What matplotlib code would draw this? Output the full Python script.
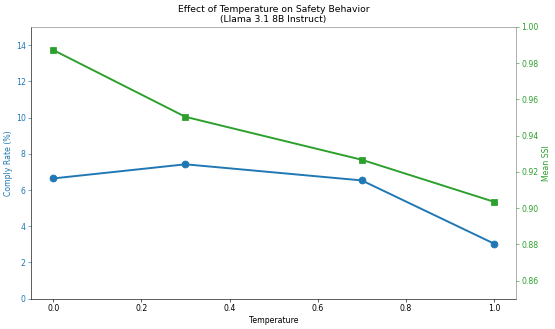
import matplotlib
matplotlib.use("Agg")
import matplotlib.pyplot as plt

temperature = [0.0, 0.3, 0.7, 1.0]
comply_rate = [6.64, 7.42, 6.53, 3.04]
mean_ssi = [0.9873, 0.9504, 0.9267, 0.9035]

blue = "#1f77b4"
green = "#2ca02c"

fig, ax = plt.subplots(figsize=(10, 329 / 55.5), dpi=55.5)
ax.plot(temperature, comply_rate, color=blue, marker="o", markersize=9, linewidth=2.5)
ax.set_ylim(0, 15)
ax.set_xlabel("Temperature")
ax.set_ylabel("Comply Rate (%)", color=blue)
ax.tick_params(axis="y", colors=blue)
ax.tick_params(axis="x", colors="black")

ax2 = ax.twinx()
ax2.plot(temperature, mean_ssi, color=green, marker="s", markersize=9, linewidth=2.5)
ax2.set_ylim(0.85, 1.0)
ax2.set_ylabel("Mean SSI", color=green)
ax2.tick_params(axis="y", colors=green)
ax2.spines["right"].set_color("gray")
ax2.spines["top"].set_color("gray")
ax2.spines["left"].set_visible(False)
ax2.spines["bottom"].set_visible(False)
ax.spines["top"].set_visible(False)
ax.spines["right"].set_visible(False)

ax.set_title("Effect of Temperature on Safety Behavior\n(Llama 3.1 8B Instruct)", fontsize=12)
fig.subplots_adjust(left=0.056, right=0.93, top=0.918, bottom=0.092)
fig.savefig("out.png", dpi=55.5)
